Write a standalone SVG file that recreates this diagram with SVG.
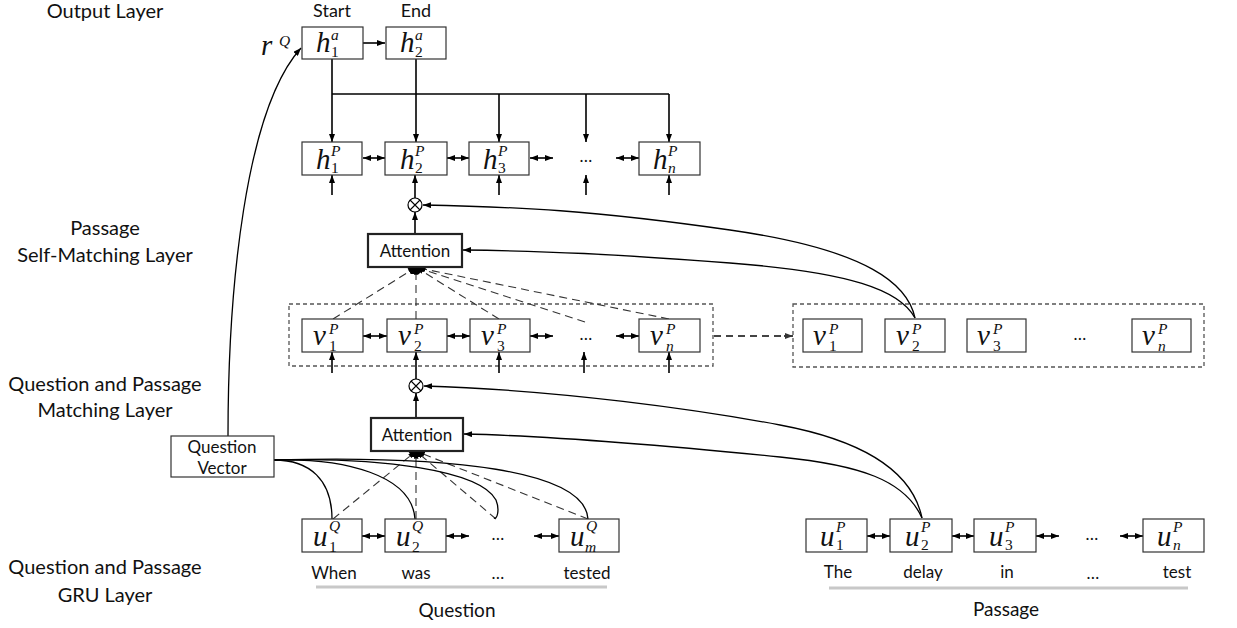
<svg xmlns="http://www.w3.org/2000/svg" width="1237" height="628" viewBox="0 0 1237 628">
<defs>
<marker id="ah" viewBox="0 0 8 6" refX="8" refY="3" markerWidth="8" markerHeight="6" markerUnits="userSpaceOnUse" orient="auto-start-reverse"><path d="M0,0 L8,3 L0,6 z" fill="#000"/></marker>
<marker id="ahs" viewBox="0 0 8 6" refX="8" refY="3" markerWidth="7" markerHeight="5" markerUnits="userSpaceOnUse" orient="auto"><path d="M0,0 L8,3 L0,6 z" fill="#000"/></marker>
<marker id="ahg" viewBox="0 0 8 6" refX="8" refY="3" markerWidth="8" markerHeight="6" markerUnits="userSpaceOnUse" orient="auto"><path d="M0,0 L8,3 L0,6 z" fill="#333"/></marker>
</defs>
<style>
.box{fill:#fff;stroke:#333;stroke-width:1.2}
.att{fill:#fff;stroke:#222;stroke-width:2.2}
.lbl{font-family:Lato,"Open Sans",sans-serif;fill:#111;text-anchor:middle}
.m{font-family:"Liberation Serif","Times New Roman",serif;font-style:italic;font-size:29px;fill:#111}
.s{font-family:"Liberation Serif","Times New Roman",serif;font-size:15.5px;font-style:normal}
.si{font-style:italic}
.dots{font-family:Lato,sans-serif;font-size:17px;fill:#111;text-anchor:middle}
.ln{fill:none;stroke:#000;stroke-width:1.3}
.arr{fill:none;stroke:#000;stroke-width:1.6;marker-end:url(#ah)}
.dbl{fill:none;stroke:#000;stroke-width:1.6;marker-start:url(#ah);marker-end:url(#ah)}
.crv{fill:none;stroke:#000;stroke-width:1.3}
.dsh{fill:none;stroke:#333;stroke-width:1.1;stroke-dasharray:8,5;marker-end:url(#ahs)}
.grp{fill:none;stroke:#555;stroke-width:1.3;stroke-dasharray:4,3}
.under{stroke:#c8c8c8;stroke-width:3}
</style>

<!-- layer labels -->
<g id="layer-labels" class="lbl" font-size="20">
<text x="105" y="18">Output Layer</text>
<text x="105" y="235">Passage</text>
<text x="105" y="262">Self-Matching Layer</text>
<text x="105" y="391">Question and Passage</text>
<text x="105" y="417">Matching Layer</text>
<text x="105" y="574">Question and Passage</text>
<text x="105" y="602">GRU Layer</text>
</g>

<!-- group frames -->
<g id="frames">
<rect class="grp" x="289" y="304" width="424" height="62"/>
<rect class="grp" x="793" y="304" width="411" height="63"/>
</g>

<!-- connectors -->
<g id="connectors">
<path class="arr" d="M363,43 L385,43"/>
<path class="crv" d="M228,436 C228,290 245,110 301,48" marker-end="url(#ah)"/>
<path class="ln" d="M332,94 H669"/>
<path class="arr" d="M332,59 V142"/>
<path class="arr" d="M416,59 V142"/>
<path class="arr" d="M499,94 V142"/>
<path class="arr" d="M586,94 V142"/>
<path class="arr" d="M669,94 V142"/>
<!-- h row -->
<path class="dbl" d="M363,158 H385"/>
<path class="dbl" d="M447,158 H469"/>
<path class="dbl" d="M530,158 H553"/>
<path class="dbl" d="M616,158 H639"/>
<path class="arr" d="M332,195 V175"/>
<path class="arr" d="M499,195 V175"/>
<path class="arr" d="M586,195 V175"/>
<path class="arr" d="M669,195 V175"/>
<path class="arr" d="M415,198 V175"/>
<path class="arr" d="M415,234 V212"/>
<path class="crv" d="M915,318 C908,285 870,250 730,230 S520,207 423,205" marker-end="url(#ah)"/>
<path class="crv" d="M915,318 C900,290 850,272 730,263 S550,251 463,250" marker-end="url(#ah)"/>
<!-- self attention dashed -->
<path class="dsh" d="M333,319 L415,268"/>
<path class="dsh" d="M416,319 L416,268"/>
<path class="dsh" d="M499,319 L417,268"/>
<path class="dsh" d="M585,322 L418,268"/>
<path class="dsh" d="M669,319 L419,268"/>
<polygon points="407,267 425,267 419,274 411,274" fill="#000"/>
<!-- v row -->
<path class="dbl" d="M363,336 H387"/>
<path class="dbl" d="M447,336 H470"/>
<path class="dbl" d="M530,336 H553"/>
<path class="dbl" d="M616,336 H639"/>
<path class="arr" d="M332,373 V352"/>
<path class="arr" d="M499,373 V352"/>
<path class="arr" d="M584,373 V352"/>
<path class="arr" d="M669,373 V352"/>
<path class="arr" d="M416,379 V352"/>
<path class="arr" d="M416,418 V393"/>
<path d="M714,336 H785" fill="none" stroke="#444" stroke-width="2" stroke-dasharray="7,5"/>
<path d="M784,336 L793,336" fill="none" stroke="#444" stroke-width="2" marker-end="url(#ahg)"/>
<path class="crv" d="M922,518 C912,470 860,440 780,425 S560,390 424,386" marker-end="url(#ah)"/>
<path class="crv" d="M922,518 C905,480 860,465 780,457 S560,436 464,434" marker-end="url(#ah)"/>
<!-- question attention dashed -->
<path class="dsh" d="M333,519 L415,452"/>
<path class="dsh" d="M416,519 L416,452"/>
<path class="dsh" d="M496,519 L417,452"/>
<path class="dsh" d="M588,519 L418,452"/>
<polygon points="408,451 425,451 420,457 412,457" fill="#000"/>
<!-- question vector curves -->
<path class="crv" d="M274,460 C310,460 332,480 332,519"/>
<path class="crv" d="M274,460 C345,458 412,475 415,519"/>
<path class="crv" d="M274,460 C380,457 480,470 496,500 C500,510 497,520 494,518"/>
<path class="crv" d="M274,460 C450,455 585,470 588,519"/>
<!-- u rows -->
<path class="dbl" d="M362,536 H385"/>
<path class="dbl" d="M446,536 H469"/>
<path class="dbl" d="M534,536 H559"/>
<path class="dbl" d="M867,536 H890"/>
<path class="dbl" d="M952,536 H974"/>
<path class="dbl" d="M1036,536 H1059"/>
<path class="dbl" d="M1120,536 H1143"/>
<line class="under" x1="316" y1="587" x2="607" y2="587"/>
<line class="under" x1="829" y1="588" x2="1188" y2="588"/>
</g>

<!-- output layer -->
<g id="label-start"><text class="lbl" x="332" y="17" font-size="18">Start</text></g>
<g id="label-end"><text class="lbl" x="416" y="17" font-size="18">End</text></g>
<g id="rQ"><text class="m" x="261" y="55">r<tspan class="s si" x="279" y="46">Q</tspan></text></g>
<g id="h1a"><rect class="box" x="302" y="27" width="61" height="32"/><text class="m" x="316" y="52">h<tspan class="s si" x="331" y="40">a</tspan><tspan class="s" x="331" y="57">1</tspan></text></g>
<g id="h2a"><rect class="box" x="386" y="27" width="60" height="32"/><text class="m" x="400" y="52">h<tspan class="s si" x="415" y="40">a</tspan><tspan class="s" x="415" y="57">2</tspan></text></g>

<!-- h^P row -->
<g id="h1P"><rect class="box" x="302" y="142" width="60" height="33"/><text class="m" x="316" y="169">h<tspan class="s si" x="331" y="156">P</tspan><tspan class="s" x="331" y="173">1</tspan></text></g>
<g id="h2P"><rect class="box" x="385" y="142" width="62" height="33"/><text class="m" x="400" y="169">h<tspan class="s si" x="415" y="156">P</tspan><tspan class="s" x="415" y="173">2</tspan></text></g>
<g id="h3P"><rect class="box" x="469" y="142" width="60" height="33"/><text class="m" x="483" y="169">h<tspan class="s si" x="498" y="156">P</tspan><tspan class="s" x="498" y="173">3</tspan></text></g>
<g id="hdots"><text class="dots" x="586" y="162">…</text></g>
<g id="hnP"><rect class="box" x="639" y="142" width="61" height="33"/><text class="m" x="653" y="169">h<tspan class="s si" x="668" y="156">P</tspan><tspan class="s si" x="668" y="173">n</tspan></text></g>

<g id="otimes1"><circle cx="415" cy="205" r="7" fill="#fff" stroke="#000" stroke-width="1.2"/><path d="M410,200 L420,210 M420,200 L410,210" stroke="#000" stroke-width="1.1"/></g>
<g id="attention1"><rect class="att" x="368" y="234" width="94" height="33"/><text class="lbl" x="415" y="257" font-size="17">Attention</text></g>

<!-- v^P row -->
<g id="v1P"><rect class="box" x="302" y="319" width="61" height="33"/><text class="m" x="313" y="345">v<tspan class="s si" x="329" y="334">P</tspan><tspan class="s" x="329" y="351">1</tspan></text></g>
<g id="v2P"><rect class="box" x="387" y="319" width="60" height="33"/><text class="m" x="398" y="345">v<tspan class="s si" x="414" y="334">P</tspan><tspan class="s" x="414" y="351">2</tspan></text></g>
<g id="v3P"><rect class="box" x="470" y="319" width="60" height="33"/><text class="m" x="481" y="345">v<tspan class="s si" x="497" y="334">P</tspan><tspan class="s" x="497" y="351">3</tspan></text></g>
<g id="vdots"><text class="dots" x="586" y="340">…</text></g>
<g id="vnP"><rect class="box" x="639" y="319" width="61" height="33"/><text class="m" x="650" y="345">v<tspan class="s si" x="666" y="334">P</tspan><tspan class="s si" x="666" y="351">n</tspan></text></g>

<!-- copy of v^P -->
<g id="v1P-b"><rect class="box" x="803" y="319" width="59" height="33"/><text class="m" x="813" y="345">v<tspan class="s si" x="829" y="334">P</tspan><tspan class="s" x="829" y="351">1</tspan></text></g>
<g id="v2P-b"><rect class="box" x="885" y="319" width="60" height="33"/><text class="m" x="896" y="345">v<tspan class="s si" x="912" y="334">P</tspan><tspan class="s" x="912" y="351">2</tspan></text></g>
<g id="v3P-b"><rect class="box" x="967" y="319" width="59" height="33"/><text class="m" x="977" y="345">v<tspan class="s si" x="993" y="334">P</tspan><tspan class="s" x="993" y="351">3</tspan></text></g>
<g id="vdots-b"><text class="dots" x="1080" y="340">…</text></g>
<g id="vnP-b"><rect class="box" x="1132" y="319" width="59" height="33"/><text class="m" x="1142" y="345">v<tspan class="s si" x="1158" y="334">P</tspan><tspan class="s si" x="1158" y="351">n</tspan></text></g>

<g id="otimes2"><circle cx="416" cy="386" r="7" fill="#fff" stroke="#000" stroke-width="1.2"/><path d="M411,381 L421,391 M421,381 L411,391" stroke="#000" stroke-width="1.1"/></g>
<g id="attention2"><rect class="att" x="371" y="418" width="92" height="33"/><text class="lbl" x="417" y="441" font-size="17">Attention</text></g>

<g id="question-vector"><rect class="box" x="171" y="436" width="103" height="41"/><text class="lbl" x="222" y="453" font-size="17">Question<tspan x="222" y="474">Vector</tspan></text></g>

<!-- u^Q row -->
<g id="u1Q"><rect class="box" x="302" y="519" width="60" height="33"/><text class="m" x="313" y="546">u<tspan class="s si" x="329" y="531">Q</tspan><tspan class="s" x="329" y="552">1</tspan></text></g>
<g id="u2Q"><rect class="box" x="385" y="519" width="61" height="33"/><text class="m" x="396" y="546">u<tspan class="s si" x="412" y="531">Q</tspan><tspan class="s" x="412" y="552">2</tspan></text></g>
<g id="uQdots"><text class="dots" x="498" y="540">…</text></g>
<g id="umQ"><rect class="box" x="559" y="519" width="60" height="33"/><text class="m" x="570" y="546">u<tspan class="s si" x="586" y="531">Q</tspan><tspan class="s si" x="585" y="552">m</tspan></text></g>

<!-- u^P row -->
<g id="u1P"><rect class="box" x="806" y="519" width="61" height="33"/><text class="m" x="820" y="546">u<tspan class="s si" x="836" y="532">P</tspan><tspan class="s" x="836" y="550">1</tspan></text></g>
<g id="u2P"><rect class="box" x="890" y="519" width="62" height="33"/><text class="m" x="905" y="546">u<tspan class="s si" x="921" y="532">P</tspan><tspan class="s" x="921" y="550">2</tspan></text></g>
<g id="u3P"><rect class="box" x="974" y="519" width="62" height="33"/><text class="m" x="989" y="546">u<tspan class="s si" x="1005" y="532">P</tspan><tspan class="s" x="1005" y="550">3</tspan></text></g>
<g id="uPdots"><text class="dots" x="1092" y="540">…</text></g>
<g id="unP"><rect class="box" x="1143" y="519" width="61" height="33"/><text class="m" x="1157" y="546">u<tspan class="s si" x="1173" y="532">P</tspan><tspan class="s si" x="1173" y="550">n</tspan></text></g>

<!-- words -->
<g id="words" class="lbl" font-size="17">
<text x="334" y="579">When</text>
<text x="416" y="579">was</text>
<text x="498" y="579">…</text>
<text x="587" y="579">tested</text>
<text x="838" y="578">The</text>
<text x="923" y="578">delay</text>
<text x="1007" y="578">in</text>
<text x="1093" y="579">…</text>
<text x="1177" y="578">test</text>
</g>
<g id="label-question"><text class="lbl" x="457" y="617" font-size="19">Question</text></g>
<g id="label-passage"><text class="lbl" x="1006" y="616" font-size="19">Passage</text></g>
</svg>
